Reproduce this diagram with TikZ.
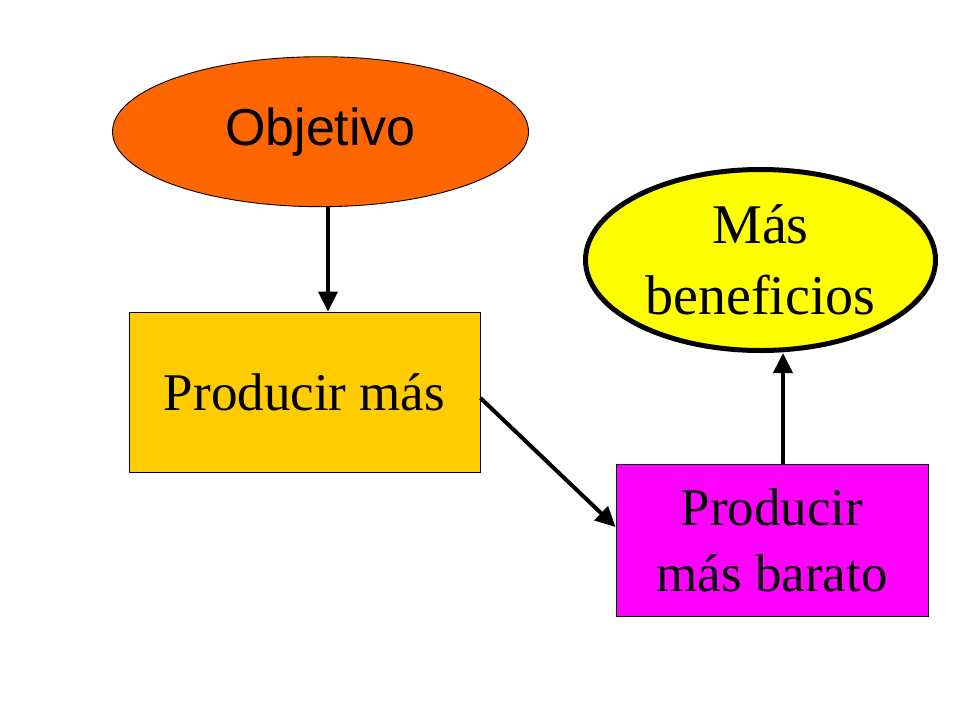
\documentclass[tikz,border=0pt]{standalone}
\usepackage{fontspec}
\setmainfont{Liberation Serif}
\setsansfont{Liberation Sans}
\usetikzlibrary{arrows.meta,shapes.geometric}
\definecolor{cobj}{HTML}{FF6600}
\definecolor{cben}{HTML}{FFFF00}
\definecolor{cpm}{HTML}{FFCC00}
\definecolor{cpb}{HTML}{FF00FF}
\tikzset{
  thinbox/.style={draw=black,line width=0.9pt,inner sep=0pt,align=center},
  arr/.style={line width=4pt,-{Triangle[length=20pt,width=19pt]}},
}
\begin{document}
\begin{tikzpicture}[x=1pt,y=-1pt]
\useasboundingbox[fill=white] (0,0) rectangle (960,720);
\node[thinbox,ellipse,fill=cobj,minimum width=416pt,minimum height=150pt,font=\sffamily\fontsize{52}{60}\selectfont] (obj) at (320.5,131.7) {Objetivo};
\node[ellipse,draw=black,line width=5pt,fill=cben,inner sep=0pt,minimum width=350pt,minimum height=181pt,align=center,font=\fontsize{56}{71}\selectfont] (ben) at (760.5,260) {\raisebox{-4pt}{Más}\\\raisebox{-4pt}{beneficios}};
\node[thinbox,rectangle,fill=cpm,minimum width=351pt,minimum height=160pt,font=\fontsize{53}{65}\selectfont] (pm) at (304.5,392) {Producir más};
\node[thinbox,rectangle,fill=cpb,minimum width=312pt,minimum height=152pt,font=\fontsize{53}{66}\selectfont] (pb) at (772,540) {Producir\\más barato};
\coordinate (c1) at (328,0);
\coordinate (c3) at (783,0);
\draw[arr] (obj.south -| c1) -- (pm.north -| c1);
\draw[arr] ([yshift=-6pt]pm.east) -- ([yshift=13pt]pb.west);
\draw[arr] (pb.north -| c3) -- (ben.south -| c3);
\end{tikzpicture}
\end{document}
